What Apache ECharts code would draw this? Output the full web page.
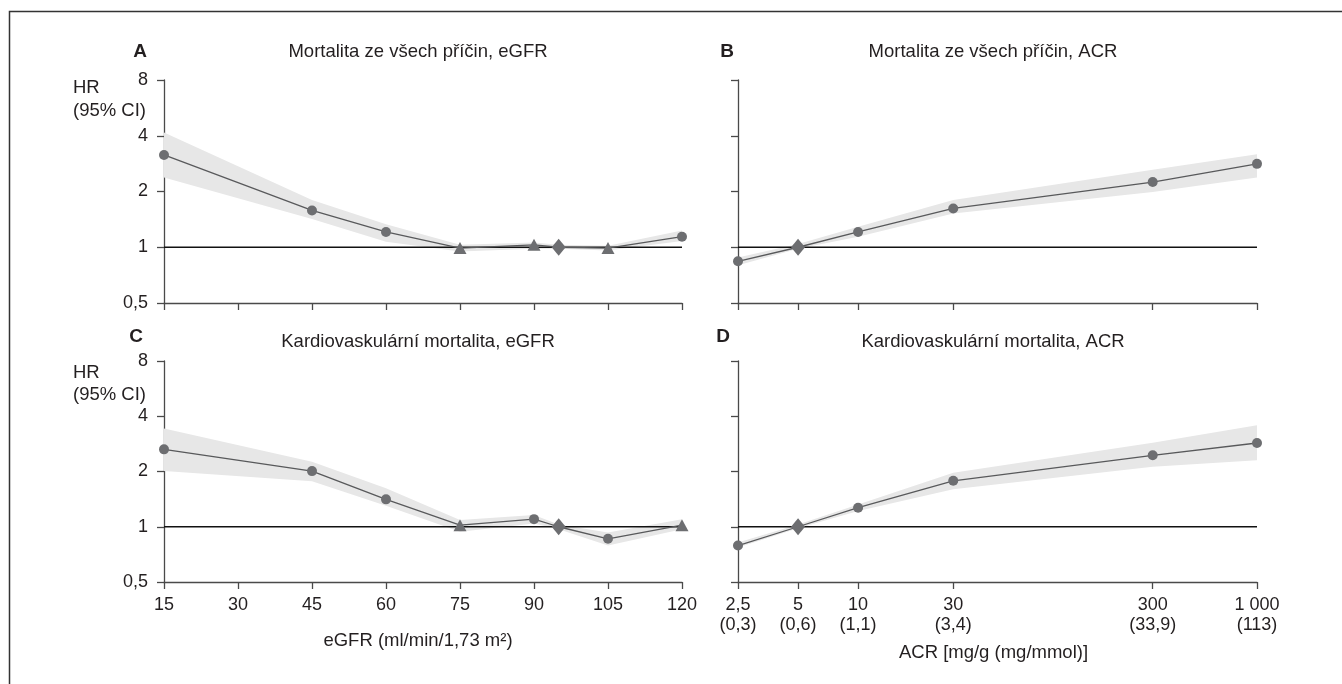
<!DOCTYPE html>
<html>
<head>
<meta charset="utf-8">
<script src="https://cdn.jsdelivr.net/npm/echarts@6/dist/echarts.min.js"></script>
<style>
  html, body { margin: 0; padding: 0; background: #fff; }
  #chart { width: 1342px; height: 684px; }
</style>
</head>
<body>
<div id="chart"></div>
<script>
// eGFR panels (A, C)
const egfrX = [15, 45, 60, 75, 90, 95, 105, 120]
const egfrTicks = [15, 30, 45, 60, 75, 90, 105, 120]
const allCauseEgfr = [3.15, 1.58, 1.21, 0.99, 1.03, 1.0, 0.99, 1.14]
const allCauseEgfrLo = [2.38, 1.42, 1.07, 0.95, 0.98, 0.98, 0.96, 1.08]
const allCauseEgfrHi = [4.17, 1.80, 1.33, 1.03, 1.06, 1.03, 1.02, 1.23]
const allCauseEgfrSym = ['circle', 'circle', 'circle', 'triangle', 'triangle', 'diamond', 'triangle', 'circle']
const cvEgfr = [2.64, 2.01, 1.41, 1.02, 1.10, 1.0, 0.86, 1.02]
const cvEgfrLo = [2.01, 1.77, 1.30, 0.94, 1.04, 0.97, 0.79, 0.97]
const cvEgfrHi = [3.43, 2.26, 1.62, 1.09, 1.16, 1.03, 0.93, 1.10]
const cvEgfrSym = ['circle', 'circle', 'circle', 'triangle', 'circle', 'diamond', 'circle', 'triangle']

// ACR panels (B, D)
const acrX = [2.5, 5, 10, 30, 300, 1000]
const acrTicks = [2.5, 5, 10, 30, 300, 1000]
const acrTickLabels = ['2,5\n(0,3)', '5\n(0,6)', '10\n(1,1)', '30\n(3,4)', '300\n(33,9)', '1 000\n(113)']
const allCauseAcr = [0.84, 1.0, 1.21, 1.62, 2.25, 2.82]
const allCauseAcrLo = [0.80, 0.98, 1.14, 1.52, 1.99, 2.38]
const allCauseAcrHi = [0.88, 1.04, 1.29, 1.80, 2.62, 3.18]
const cvAcr = [0.79, 1.0, 1.27, 1.78, 2.45, 2.86]
const cvAcrLo = [0.77, 0.98, 1.22, 1.60, 2.12, 2.30]
const cvAcrHi = [0.82, 1.03, 1.32, 1.97, 2.87, 3.57]
const acrSym = ['circle', 'diamond', 'circle', 'circle', 'circle', 'circle']

// HR axis
const hrMin = 0.5
const hrMax = 8

const panelTitles = [
  'Mortalita ze všech příčin, eGFR',
  'Mortalita ze všech příčin, ACR',
  'Kardiovaskulární mortalita, eGFR',
  'Kardiovaskulární mortalita, ACR'
]
const panelLetters = ['A', 'B', 'C', 'D']

const FONT = '"Liberation Sans", Arial, sans-serif'
const TXT = '#231f20'
const AXIS = '#4a4a4a'
const MARK = '#6d6e71'
const LINE = '#58595b'
const BAND = '#e7e7e7'

const lg = v => Math.log10(v)
const symSize = s => (s === 'circle' ? 10 : s === 'triangle' ? [13, 12] : [14, 17])

const chart = echarts.init(document.getElementById('chart'))

const grids = [
  { left: 164, top: 80, width: 518, height: 223 },
  { left: 738, top: 80, width: 519, height: 223 },
  { left: 164, top: 361, width: 518, height: 221 },
  { left: 738, top: 361, width: 519, height: 221 }
]

const axisLineStyle = { color: AXIS, width: 1.3 }
const labelBase = { color: TXT, fontSize: 18, fontFamily: FONT }
const nameBase = { color: TXT, fontSize: 18.5, fontFamily: FONT }

const xAxes = [
  {
    gridIndex: 0, type: 'value', min: 15, max: 120, interval: 15,
    axisLine: { lineStyle: axisLineStyle }, axisTick: { length: 7, lineStyle: axisLineStyle },
    axisLabel: { show: false }, splitLine: { show: false }
  },
  {
    gridIndex: 1, type: 'value', min: lg(2.5), max: lg(1000),
    axisLine: { lineStyle: axisLineStyle },
    axisTick: { length: 7, lineStyle: axisLineStyle, customValues: acrTicks.map(lg) },
    axisLabel: { show: false }, splitLine: { show: false }
  },
  {
    gridIndex: 2, type: 'value', min: 15, max: 120, interval: 15,
    axisLine: { lineStyle: axisLineStyle }, axisTick: { length: 7, lineStyle: axisLineStyle },
    axisLabel: Object.assign({ margin: 14 }, labelBase), splitLine: { show: false },
    name: 'eGFR (ml/min/1,73 m²)', nameLocation: 'middle', nameGap: 49,
    nameTextStyle: Object.assign({ padding: [0, 10, 0, 0] }, nameBase)
  },
  {
    gridIndex: 3, type: 'value', min: lg(2.5), max: lg(1000),
    axisLine: { lineStyle: axisLineStyle },
    axisTick: { length: 7, lineStyle: axisLineStyle, customValues: acrTicks.map(lg) },
    axisLabel: Object.assign({
      margin: 13, lineHeight: 20,
      customValues: acrTicks.map(lg),
      formatter: v => {
        const i = acrTicks.findIndex(t => Math.abs(lg(t) - v) < 1e-6)
        return i >= 0 ? acrTickLabels[i] : ''
      }
    }, labelBase),
    splitLine: { show: false },
    name: 'ACR [mg/g (mg/mmol)]', nameLocation: 'middle', nameGap: 61,
    nameTextStyle: Object.assign({ padding: [0, 8, 0, 0] }, nameBase)
  }
]

const yAxes = [0, 1, 2, 3].map(i => ({
  gridIndex: i, type: 'log', logBase: 2, min: hrMin, max: hrMax, interval: 1,
  axisLine: { show: true, lineStyle: axisLineStyle },
  axisTick: { show: true, length: 7, lineStyle: axisLineStyle },
  axisLabel: Object.assign({
    show: i % 2 === 0, margin: 16,
    formatter: v => String(Math.round(v * 100) / 100).replace('.', ',')
  }, labelBase),
  splitLine: { show: false }
}))

const bandSeries = (idx, xs, lo, hi) => ({
  type: 'custom', xAxisIndex: idx, yAxisIndex: idx, z: 1, silent: true,
  data: xs.map((x, i) => [x, lo[i], hi[i]]),
  encode: { x: 0, y: [1, 2] },
  renderItem: (params, api) => {
    if (params.dataIndex !== 0) return null
    const top = xs.map((x, i) => api.coord([x, hi[i]]))
    const bottom = xs.map((x, i) => api.coord([x, lo[i]])).reverse()
    return {
      type: 'polygon',
      shape: { points: top.concat(bottom) },
      style: { fill: BAND, stroke: null }
    }
  }
})

const refSeries = (idx, xMin, xMax) => ({
  type: 'line', xAxisIndex: idx, yAxisIndex: idx, z: 2, silent: true,
  showSymbol: false, data: [[xMin, 1], [xMax, 1]],
  lineStyle: { color: '#111', width: 1.5 }
})

const dataSeries = (idx, xs, ys, syms) => ({
  type: 'line', xAxisIndex: idx, yAxisIndex: idx, z: 3,
  data: xs.map((x, i) => ({ value: [x, ys[i]], symbol: syms[i], symbolSize: symSize(syms[i]) })),
  lineStyle: { color: LINE, width: 1.3 },
  itemStyle: { color: MARK, borderWidth: 0 }
})

const series = [
  bandSeries(0, egfrX, allCauseEgfrLo, allCauseEgfrHi),
  refSeries(0, 15, 120),
  dataSeries(0, egfrX, allCauseEgfr, allCauseEgfrSym),
  bandSeries(1, acrX.map(lg), allCauseAcrLo, allCauseAcrHi),
  refSeries(1, lg(2.5), lg(1000)),
  dataSeries(1, acrX.map(lg), allCauseAcr, acrSym),
  bandSeries(2, egfrX, cvEgfrLo, cvEgfrHi),
  refSeries(2, 15, 120),
  dataSeries(2, egfrX, cvEgfr, cvEgfrSym),
  bandSeries(3, acrX.map(lg), cvAcrLo, cvAcrHi),
  refSeries(3, lg(2.5), lg(1000)),
  dataSeries(3, acrX.map(lg), cvAcr, acrSym)
]

const textEl = (x, y, text, extra) => ({
  type: 'text', silent: true,
  style: Object.assign({
    x: x, y: y, text: text, fill: TXT, fontSize: 18.5, fontFamily: FONT,
    textAlign: 'center', textVerticalAlign: 'middle'
  }, extra || {})
})

const titlePos = [[418, 52], [993, 52], [418, 342], [993, 342]]
const letterPos = [[140, 52], [727, 52], [136, 337], [723, 337]]

const graphic = [
  {
    type: 'rect', silent: true,
    shape: { x: 9.5, y: 11.5, width: 1400, height: 800 },
    style: { fill: null, stroke: '#333', lineWidth: 1.5 }
  }
]
panelTitles.forEach((t, i) => graphic.push(textEl(titlePos[i][0], titlePos[i][1], t)))
panelLetters.forEach((t, i) => graphic.push(textEl(letterPos[i][0], letterPos[i][1], t, { fontWeight: 'bold', fontSize: 19 })))
;[[88, 111], [373, 395]].forEach(p => {
  graphic.push(textEl(73, p[0], 'HR', { textAlign: 'left' }))
  graphic.push(textEl(73, p[1], '(95% CI)', { textAlign: 'left' }))
})

const option = {
  animation: false,
  backgroundColor: '#fff',
  grid: grids,
  xAxis: xAxes,
  yAxis: yAxes,
  series: series,
  graphic: graphic
}

chart.setOption(option)
</script>
</body>
</html>
